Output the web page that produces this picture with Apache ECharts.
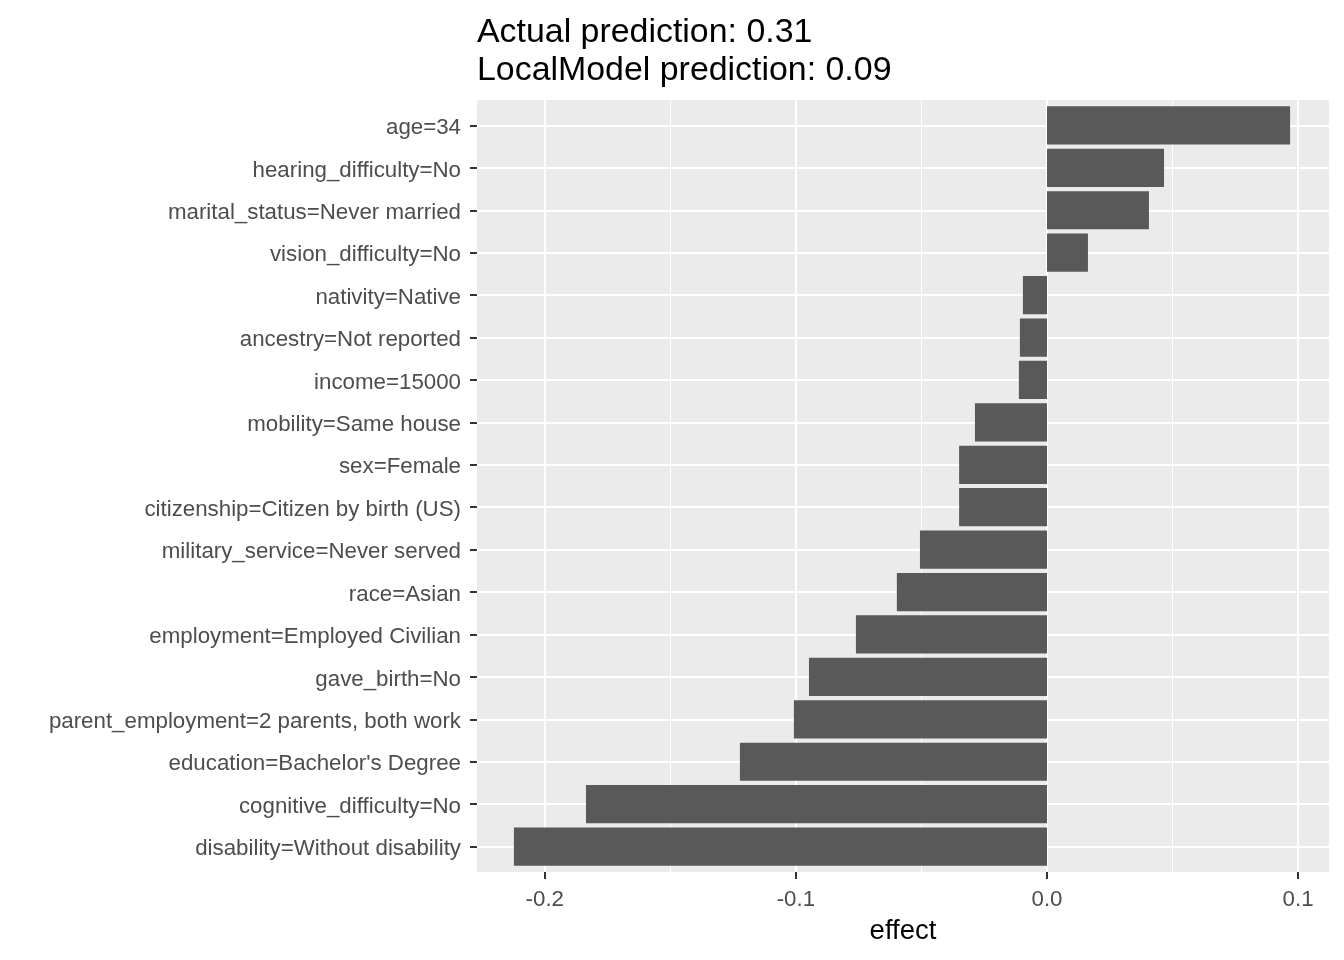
<!DOCTYPE html>
<html>
<head>
<meta charset="utf-8">
<script src="https://cdn.jsdelivr.net/npm/echarts@6/dist/echarts.min.js"></script>
<style>
  html, body { margin: 0; padding: 0; background: #fff; }
  #chart { width: 1344px; height: 960px; }
</style>
</head>
<body>
<div id="chart"></div>
<script>
// feature labels, top to bottom
const features = [
    'age=34',
    'hearing_difficulty=No',
    'marital_status=Never married',
    'vision_difficulty=No',
    'nativity=Native',
    'ancestry=Not reported',
    'income=15000',
    'mobility=Same house',
    'sex=Female',
    'citizenship=Citizen by birth (US)',
    'military_service=Never served',
    'race=Asian',
    'employment=Employed Civilian',
    'gave_birth=No',
    'parent_employment=2 parents, both work',
    'education=Bachelor\'s Degree',
    'cognitive_difficulty=No',
    'disability=Without disability'
];

// effect of each feature
const effects = [
    0.0968, 0.0466, 0.0406, 0.0163, -0.0096, -0.0108, -0.0112, -0.0287, -0.0350,
    -0.0350, -0.0506, -0.0598, -0.0761, -0.0948, -0.1008, -0.1223, -0.1836, -0.2123
];

const majorTicks = [-0.2, -0.1, 0, 0.1];
const minorTicks = [-0.15, -0.05, 0.05];
const xRange = [-0.2270, 0.1123];

const titleLines = ['Actual prediction: 0.31', 'LocalModel prediction: 0.09'];

const font = '"Liberation Sans", Arial, sans-serif';

// row positions on the panel's index axis (ggplot pads 0.6 band each side)
const rowIdx = features.map((f, i) => i);

const chart = echarts.init(document.getElementById('chart'));

const white = w => ({ color: '#fff', width: w, type: 'solid' });

const option = {
    animation: false,
    title: {
        text: titleLines.join('\n'),
        left: 477,
        top: 14,
        padding: 0,
        textStyle: {
            fontFamily: font,
            fontSize: 33.9,
            fontWeight: 'normal',
            color: '#000',
            lineHeight: 37.7
        }
    },
    grid: [
        // panel: background, axes, grid lines
        { left: 477, right: 15, top: 100, bottom: 88, show: true, backgroundColor: '#EBEBEB', borderWidth: 0 },
        // bars, inset by the 0.6 band expansion
        { left: 477, right: 15, top: 104.24, bottom: 92.24 }
    ],
    xAxis: [
        {
            type: 'value',
            gridIndex: 0,
            min: xRange[0],
            max: xRange[1],
            name: 'effect',
            nameLocation: 'middle',
            nameGap: 45,
            nameTextStyle: { fontFamily: font, fontSize: 27.5, color: '#000' },
            axisLine: { show: false, onZero: false },
            axisTick: {
                show: true,
                customValues: majorTicks,
                length: 7,
                lineStyle: { color: '#333', width: 2 }
            },
            axisLabel: {
                customValues: majorTicks,
                margin: 16.5,
                fontFamily: font,
                fontSize: 22.3,
                color: '#4D4D4D',
                formatter: v => v.toFixed(1)
            },
            splitLine: { show: false }
        },
        {
            type: 'value',
            gridIndex: 1,
            min: xRange[0],
            max: xRange[1],
            show: false
        }
    ],
    yAxis: [
        {
            type: 'value',
            gridIndex: 0,
            min: -0.6,
            max: features.length - 0.4,
            inverse: true,
            axisLine: { show: false, onZero: false },
            axisTick: {
                show: true,
                customValues: rowIdx,
                length: 7,
                lineStyle: { color: '#333', width: 2 }
            },
            axisLabel: {
                customValues: rowIdx,
                margin: 16,
                verticalAlign: 'top',
                lineHeight: 5,
                fontFamily: font,
                fontSize: 22.3,
                color: '#4D4D4D',
                formatter: v => features[Math.round(v)]
            },
            splitLine: { show: false }
        },
        {
            type: 'category',
            gridIndex: 1,
            data: features,
            inverse: true,
            show: false
        }
    ],
    series: [
        {
            // panel grid lines
            type: 'line',
            xAxisIndex: 0,
            yAxisIndex: 0,
            data: [[0, 0]],
            showSymbol: false,
            lineStyle: { width: 0 },
            silent: true,
            markLine: {
                z: 1,
                silent: true,
                symbol: ['none', 'none'],
                label: { show: false },
                data: majorTicks.map(v => ({ xAxis: v, lineStyle: white(2) }))
                    .concat(minorTicks.map(v => ({ xAxis: v, lineStyle: white(1) })))
                    .concat(rowIdx.map(v => ({ yAxis: v, lineStyle: white(2) })))
            }
        },
        {
            type: 'bar',
            xAxisIndex: 1,
            yAxisIndex: 1,
            data: effects,
            barCategoryGap: '10%',
            itemStyle: { color: '#595959' },
            silent: true
        }
    ]
};

chart.setOption(option);
</script>
</body>
</html>
